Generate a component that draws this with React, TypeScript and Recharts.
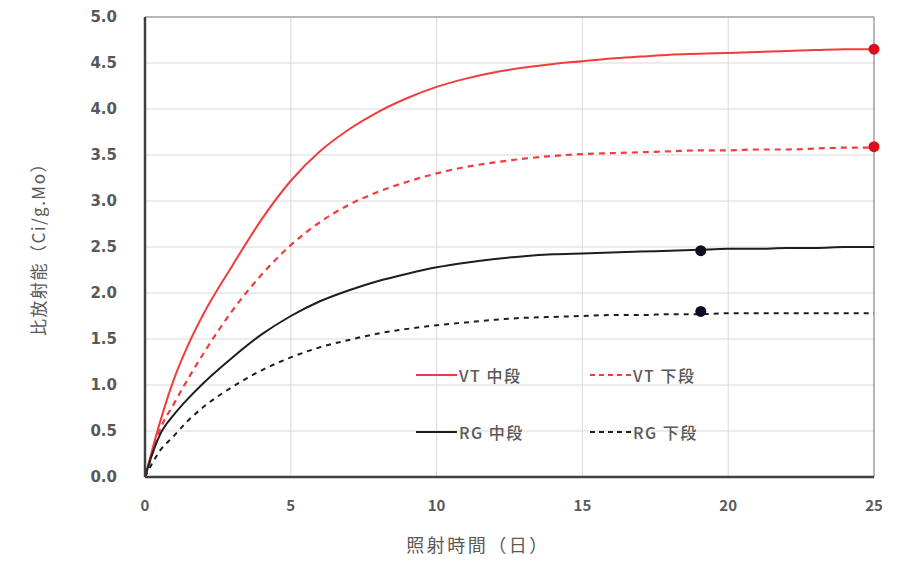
import React from "react";
import {
  ComposedChart,
  Line,
  Scatter,
  XAxis,
  YAxis,
  ZAxis,
  CartesianGrid,
  ReferenceLine,
  Legend,
} from "recharts";

/* ── data ─────────────────────────────────────────────────────────────── */

const days = [0, 0.25, 0.5, 1, 1.5, 2, 3, 4, 5, 6, 7, 8, 9, 10, 11, 12, 13, 14, 15, 16, 17, 18, 19, 20, 21, 22, 23, 24, 25];
const vtMid = [0, 0.3, 0.58, 1.07, 1.45, 1.77, 2.3, 2.8, 3.22, 3.54, 3.78, 3.97, 4.12, 4.24, 4.33, 4.4, 4.45, 4.49, 4.52, 4.55, 4.57, 4.59, 4.6, 4.61, 4.62, 4.63, 4.64, 4.65, 4.65];
const vtLow = [0, 0.25, 0.5, 0.8, 1.08, 1.34, 1.81, 2.2, 2.52, 2.77, 2.96, 3.1, 3.21, 3.3, 3.37, 3.42, 3.46, 3.49, 3.51, 3.52, 3.53, 3.54, 3.55, 3.55, 3.56, 3.56, 3.57, 3.58, 3.58];
const rgMid = [0, 0.25, 0.45, 0.68, 0.86, 1.02, 1.3, 1.55, 1.75, 1.91, 2.03, 2.13, 2.21, 2.28, 2.33, 2.37, 2.4, 2.42, 2.43, 2.44, 2.45, 2.46, 2.47, 2.48, 2.48, 2.49, 2.49, 2.5, 2.5];
const rgLow = [0, 0.15, 0.28, 0.45, 0.62, 0.76, 0.98, 1.16, 1.3, 1.41, 1.49, 1.56, 1.61, 1.65, 1.68, 1.71, 1.73, 1.74, 1.75, 1.76, 1.76, 1.77, 1.77, 1.78, 1.78, 1.78, 1.78, 1.78, 1.78];

const vtMarkers = [
  { day: 25, value: 4.65 },
  { day: 25, value: 3.59 },
];
const rgMarkers = [
  { day: 19.06, value: 2.46 },
  { day: 19.06, value: 1.8 },
];

const xTicks = [0, 5, 10, 15, 20, 25];
const yTicks = [0, 0.5, 1, 1.5, 2, 2.5, 3, 3.5, 4, 4.5, 5];

const data = days.map((d, i) => ({
  day: d,
  vtMid: vtMid[i],
  vtLow: vtLow[i],
  rgMid: rgMid[i],
  rgLow: rgLow[i],
}));

const RED = "#f23c3c";
const BLACK = "#1e1e1e";
const TEXT = "#595959";
const FONT = "'Noto Sans CJK JP', 'Open Sans', sans-serif";
const TICK_FONT = "'DejaVu Sans', sans-serif";

const legendItems = [
  { label: "VT 中段", color: RED, dash: undefined },
  { label: "VT 下段", color: RED, dash: "5 4" },
  { label: "RG 中段", color: BLACK, dash: undefined },
  { label: "RG 下段", color: BLACK, dash: "5 4" },
];

function LegendBox() {
  return (
    <div style={{ display: "grid", gridTemplateColumns: "174px 130px", rowGap: 35, fontFamily: FONT }}>
      {legendItems.map((it) => (
        <div key={it.label} style={{ display: "flex", alignItems: "center", height: 22 }}>
          <svg width={42} height={6}>
            <line x1={0} y1={3} x2={41} y2={3} stroke={it.color} strokeWidth={2} strokeDasharray={it.dash} />
          </svg>
          <span style={{ fontSize: 16, color: TEXT, marginLeft: 1, letterSpacing: 1.5, fontWeight: 500 }}>{it.label}</span>
        </div>
      ))}
    </div>
  );
}

function XLabel() {
  return (
    <text x={478} y={544} textAnchor="middle" dominantBaseline="central" fill={TEXT} fontSize={18} fontFamily={FONT} letterSpacing={2.5}>
      照射時間（日）
    </text>
  );
}

function YLabel() {
  return (
    <text x={37} y={245} transform="rotate(-90, 37, 245)" textAnchor="middle" dominantBaseline="central" fill={TEXT} fontSize={17} fontFamily={FONT} letterSpacing={1.5}>
      比放射能（Ci/g.Mo）
    </text>
  );
}

export default function App() {
  return (
    <div style={{ position: "absolute", left: 0, top: 0, background: "#fff" }}>
      <ComposedChart
        width={899}
        height={562}
        data={data}
        margin={{ top: 17, right: 25, bottom: 55, left: 0 }}
      >
        <CartesianGrid stroke="#d9d9d9" strokeWidth={1} />
        <XAxis
          dataKey="day"
          type="number"
          domain={[0, 25]}
          ticks={xTicks}
          tickSize={0}
          tickMargin={23}
          height={30}
          axisLine={{ stroke: "#404040", strokeWidth: 2.5 }}
          tick={{ fill: TEXT, fontSize: 15, fontFamily: FONT, fontWeight: 600 }}
          label={<XLabel />}
        />
        <YAxis
          type="number"
          domain={[0, 5]}
          ticks={yTicks}
          width={145}
          tickSize={0}
          tickMargin={28}
          tickFormatter={(v: number) => v.toFixed(1)}
          axisLine={{ stroke: "#404040", strokeWidth: 2.5 }}
          tick={{ fill: TEXT, fontSize: 15, fontFamily: TICK_FONT, fontWeight: "bold" }}
          label={<YLabel />}
        />
        <ZAxis range={[95, 95]} />
        <ReferenceLine y={5} stroke="#a6a6a6" strokeWidth={1.5} />
        <ReferenceLine x={25} stroke="#a6a6a6" strokeWidth={1.5} />
        <Line type="monotone" dataKey="vtMid" stroke={RED} strokeWidth={2} dot={false} isAnimationActive={false} />
        <Line type="monotone" dataKey="vtLow" stroke={RED} strokeWidth={2.2} strokeDasharray="6 5" dot={false} isAnimationActive={false} />
        <Line type="monotone" dataKey="rgMid" stroke={BLACK} strokeWidth={2} dot={false} isAnimationActive={false} />
        <Line type="monotone" dataKey="rgLow" stroke={BLACK} strokeWidth={2} strokeDasharray="5 5" dot={false} isAnimationActive={false} />
        <Scatter data={vtMarkers} dataKey="value" fill="#d8101e" shape="circle" isAnimationActive={false} />
        <Scatter data={rgMarkers} dataKey="value" fill="#0c0c24" shape="circle" isAnimationActive={false} />
        <Legend
          content={<LegendBox />}
          layout="horizontal"
          verticalAlign="middle"
          align="center"
          wrapperStyle={{ left: 416, top: 364, width: 320 }}
        />
      </ComposedChart>
    </div>
  );
}
